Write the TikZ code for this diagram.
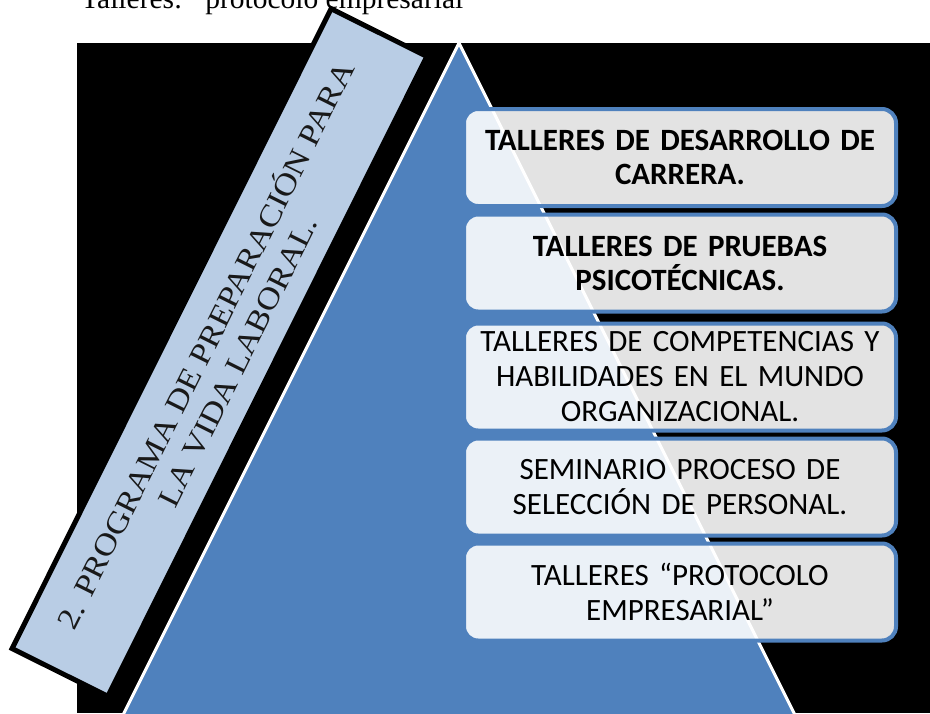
\documentclass[tikz,border=0pt]{standalone}
\usepackage{fontspec}
\setmainfont{Liberation Serif}
\newfontfamily\tallerfont{Carlito}
\newfontfamily\franjafont[FakeStretch=1.13]{Liberation Serif}
\definecolor{piramide}{HTML}{4F81BD}
\definecolor{franja}{HTML}{B9CDE5}
\begin{document}
\begin{tikzpicture}[x=1pt, y=-1pt,
    taller/.style={draw=piramide, line width=4pt, rounded corners=14pt,
      fill=white, fill opacity=0.89, text opacity=1,
      minimum width=432pt, minimum height=97pt, text width=432pt,
      align=center, inner sep=0pt,
      font=\tallerfont\fontsize{31}{35}\selectfont}]
  \useasboundingbox (0,0) rectangle (930,713);
  \clip (0,0) rectangle (930,713);

  \node[anchor=base west, inner sep=0pt, font=\fontsize{29.5}{32}\selectfont] (titulo) at (81,8)
    {Talleres: “protocolo empresarial”};

  \fill (77,43) rectangle (930,713);
  \coordinate (apex) at (459,43);
  \filldraw[fill=piramide, draw=white, line width=3pt] (apex) -- ++(-360,720) -- ++(720,0) -- cycle;

  \node[draw, line width=5pt, fill=franja, rotate=63.5, minimum width=715pt, minimum height=107pt,
    align=center, text=black!90, font=\franjafont\fontsize{30.5}{36}\selectfont] (programa) at (219.5,352.5)
    {2. PROGRAMA DE PREPARACIÓN PARA\\ LA VIDA LABORAL.};

  \node[taller, font=\tallerfont\bfseries\fontsize{31}{34}\selectfont] (desarrollo) at (680,157.5)
    {TALLERES DE DESARROLLO DE\\ CARRERA.};
  \node[taller, font=\tallerfont\bfseries\fontsize{31}{34}\selectfont] (pruebas) at (680,263)
    {TALLERES DE PRUEBAS\\ PSICOTÉCNICAS.};
  \node[taller, minimum height=107pt] (competencias) at (680,377)
    {TALLERES DE COMPETENCIAS Y\\ HABILIDADES EN EL MUNDO\\ ORGANIZACIONAL.};
  \node[taller] (seminario) at (680,487)
    {SEMINARIO PROCESO DE\\ SELECCIÓN DE PERSONAL.};
  \node[taller] (protocolo) at (680,592)
    {TALLERES “PROTOCOLO\\ EMPRESARIAL”};
\end{tikzpicture}
\end{document}
